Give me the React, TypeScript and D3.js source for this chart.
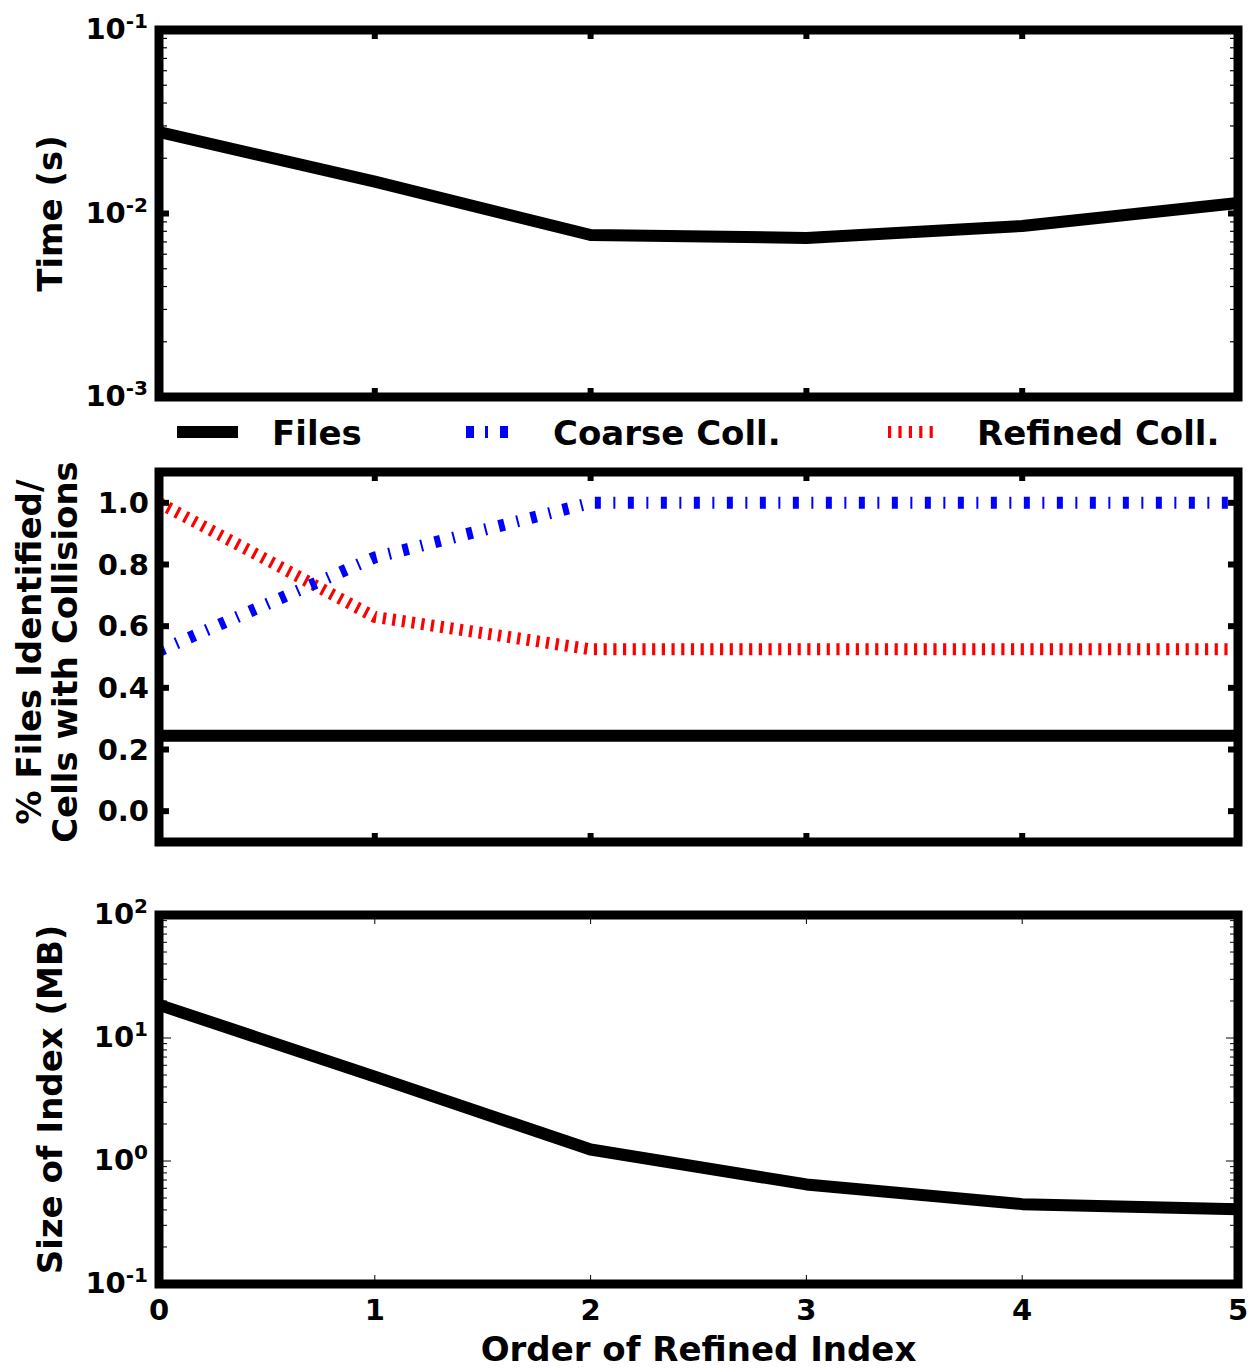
import React from "react";
import * as d3 from "d3";

const orders = [0, 1, 2, 3, 4, 5];
const timeFiles = [0.0278, 0.0149, 0.00764, 0.00736, 0.00855, 0.0114];
const pctFiles = [0.245, 0.245, 0.245, 0.245, 0.245, 0.245];
const coarseColl = [0.52, 0.823, 1.0, 1.0, 1.0, 1.0];
const refinedColl = [1.0, 0.63, 0.525, 0.525, 0.525, 0.525];
const indexSize = [18.6, 4.85, 1.24, 0.645, 0.446, 0.405];

const xTicks = [0, 1, 2, 3, 4, 5];
const timeTicks = [-3, -2, -1];
const pctTicks = [0.0, 0.2, 0.4, 0.6, 0.8, 1.0];
const sizeTicks = [-1, 0, 1, 2];

const legendItems = ["Files", "Coarse Coll.", "Refined Coll."];

const FONT = "'DejaVu Sans', sans-serif";
const X0 = 159;
const X1 = 1238;
const TITLE = 34;
const TICK = 29;

const x = d3.scaleLinear().domain([0, 5]).range([X0, X1]);
const y1 = d3.scaleLog().domain([1e-3, 1e-1]).range([397, 30]);
const y2 = d3.scaleLinear().domain([-0.1, 1.1]).range([842, 472]);
const y3 = d3.scaleLog().domain([0.1, 100]).range([1284, 915]);

function linePath(ys: number[], yScale: (v: number) => number) {
  return d3
    .line<number>()
    .x((_, i) => x(orders[i]))
    .y((v) => yScale(v))(ys) as string;
}

function minorLog(lo: number, hi: number) {
  const out: number[] = [];
  for (let e = lo; e < hi; e++) {
    for (let k = 2; k <= 9; k++) out.push(k * Math.pow(10, e));
  }
  return out;
}

function Frame({ top, bottom }: { top: number; bottom: number }) {
  return (
    <rect
      x={X0}
      y={top}
      width={X1 - X0}
      height={bottom - top}
      fill="none"
      stroke="#000"
      strokeWidth={9}
    />
  );
}

function XTicksMarks({ top, bottom, thick }: { top: number; bottom: number; thick: boolean }) {
  const len = 9;
  const sw = thick ? 6 : 1;
  return (
    <g stroke="#000" strokeWidth={sw}>
      {xTicks.slice(1, -1).map((t) => (
        <g key={t}>
          <line x1={x(t)} x2={x(t)} y1={top} y2={top + len} />
          <line x1={x(t)} x2={x(t)} y1={bottom} y2={bottom - len} />
        </g>
      ))}
    </g>
  );
}

function LogLabel({ yPos, exp }: { yPos: number; exp: number }) {
  return (
    <text
      x={148}
      y={yPos + 9}
      textAnchor="end"
      fontFamily={FONT}
      fontWeight="bold"
      fontSize={TICK}
      fill="#000"
    >
      10
      <tspan fontSize={20} dy={-11}>
        {exp}
      </tspan>
    </text>
  );
}

export default function App() {
  const minor1 = minorLog(-3, -1);
  const minor3 = minorLog(-1, 2);
  return (
    <svg
      width={1251}
      height={1369}
      style={{ position: "absolute", left: 0, top: 0, background: "#fff" }}
    >
      <rect x={0} y={0} width={1251} height={1369} fill="#fff" />

      {/* Panel 1: Time */}
      <path
        d={linePath(timeFiles, y1)}
        fill="none"
        stroke="#000"
        strokeWidth={12}
        strokeLinejoin="round"
      />
      <g stroke="#000" strokeWidth={1.2}>
        {minor1.map((v) => (
          <g key={v}>
            <line x1={X0} x2={X0 + 8} y1={y1(v)} y2={y1(v)} />
            <line x1={X1} x2={X1 - 8} y1={y1(v)} y2={y1(v)} />
          </g>
        ))}
      </g>
      <g stroke="#000" strokeWidth={6}>
        {timeTicks.slice(1, -1).map((e) => (
          <g key={e}>
            <line x1={X0} x2={X0 + 10} y1={y1(Math.pow(10, e))} y2={y1(Math.pow(10, e))} />
            <line x1={X1} x2={X1 - 10} y1={y1(Math.pow(10, e))} y2={y1(Math.pow(10, e))} />
          </g>
        ))}
      </g>
      <XTicksMarks top={30} bottom={397} thick={true} />
      <Frame top={30} bottom={397} />
      {timeTicks.map((e) => (
        <LogLabel key={e} yPos={y1(Math.pow(10, e))} exp={e} />
      ))}
      <text
        transform={`translate(50,${(30 + 397) / 2}) rotate(-90)`}
        textAnchor="middle"
        dominantBaseline="central"
        fontFamily={FONT}
        fontWeight="bold"
        fontSize={TITLE}
      >
        Time (s)
      </text>

      {/* Legend */}
      <g>
        <line x1={177} x2={238} y1={432} y2={432} stroke="#000" strokeWidth={12} />
        <line
          x1={466}
          x2={508}
          y1={432}
          y2={432}
          stroke="#0000ff"
          strokeWidth={12}
          strokeDasharray="8,11,3,12"
        />
        <line
          x1={888}
          x2={940}
          y1={432}
          y2={432}
          stroke="#ff0000"
          strokeWidth={12}
          strokeDasharray="3.2,7.2"
        />
        {[272, 553, 977].map((lx, i) => (
          <text
            key={i}
            x={lx}
            y={445}
            fontFamily={FONT}
            fontWeight="bold"
            fontSize={TITLE}
            fill="#000"
          >
            {legendItems[i]}
          </text>
        ))}
      </g>

      {/* Panel 2: percentages */}
      <path d={linePath(pctFiles, y2)} fill="none" stroke="#000" strokeWidth={12} />
      <path
        d={linePath(refinedColl, y2)}
        fill="none"
        stroke="#ff0000"
        strokeWidth={12}
        strokeDasharray="3.2,6.5"
      />
      <path
        d={linePath(coarseColl, y2)}
        fill="none"
        stroke="#0000ff"
        strokeWidth={12}
        strokeDasharray="6,12.5,2,12.5"
      />
      <g stroke="#000" strokeWidth={6}>
        {pctTicks.map((v) => (
          <g key={v}>
            <line x1={X0} x2={X0 + 10} y1={y2(v)} y2={y2(v)} />
            <line x1={X1} x2={X1 - 10} y1={y2(v)} y2={y2(v)} />
          </g>
        ))}
      </g>
      <XTicksMarks top={472} bottom={842} thick={true} />
      <Frame top={472} bottom={842} />
      {pctTicks.map((v) => (
        <text
          key={v}
          x={149}
          y={y2(v) + 10}
          textAnchor="end"
          fontFamily={FONT}
          fontWeight="bold"
          fontSize={TICK}
        >
          {v.toFixed(1)}
        </text>
      ))}
      <text
        transform={`translate(29,${(472 + 842) / 2 - 5}) rotate(-90)`}
        textAnchor="middle"
        dominantBaseline="central"
        fontFamily={FONT}
        fontWeight="bold"
        fontSize={TITLE}
      >
        % Files Identified/
      </text>
      <text
        transform={`translate(65,${(472 + 842) / 2 - 5}) rotate(-90)`}
        textAnchor="middle"
        dominantBaseline="central"
        fontFamily={FONT}
        fontWeight="bold"
        fontSize={TITLE}
      >
        Cells with Collisions
      </text>

      {/* Panel 3: index size */}
      <path
        d={linePath(indexSize, y3)}
        fill="none"
        stroke="#000"
        strokeWidth={12}
        strokeLinejoin="round"
      />
      <g stroke="#000" strokeWidth={1}>
        {minor3.map((v) => (
          <g key={v}>
            <line x1={X0} x2={X0 + 8} y1={y3(v)} y2={y3(v)} />
            <line x1={X1} x2={X1 - 8} y1={y3(v)} y2={y3(v)} />
          </g>
        ))}
        {sizeTicks.map((e) => (
          <g key={e}>
            <line x1={X0} x2={X0 + 12} y1={y3(Math.pow(10, e))} y2={y3(Math.pow(10, e))} />
            <line x1={X1} x2={X1 - 12} y1={y3(Math.pow(10, e))} y2={y3(Math.pow(10, e))} />
          </g>
        ))}
      </g>
      <XTicksMarks top={915} bottom={1284} thick={false} />
      <Frame top={915} bottom={1284} />
      {sizeTicks.map((e) => (
        <LogLabel key={e} yPos={y3(Math.pow(10, e))} exp={e} />
      ))}
      <text
        transform={`translate(50,${(915 + 1284) / 2}) rotate(-90)`}
        textAnchor="middle"
        dominantBaseline="central"
        fontFamily={FONT}
        fontWeight="bold"
        fontSize={TITLE}
      >
        Size of Index (MB)
      </text>
      {xTicks.map((t) => (
        <text
          key={t}
          x={x(t)}
          y={1320}
          textAnchor="middle"
          fontFamily={FONT}
          fontWeight="bold"
          fontSize={TICK}
        >
          {t}
        </text>
      ))}
      <text
        x={(X0 + X1) / 2}
        y={1361}
        textAnchor="middle"
        fontFamily={FONT}
        fontWeight="bold"
        fontSize={TITLE}
      >
        Order of Refined Index
      </text>
    </svg>
  );
}
